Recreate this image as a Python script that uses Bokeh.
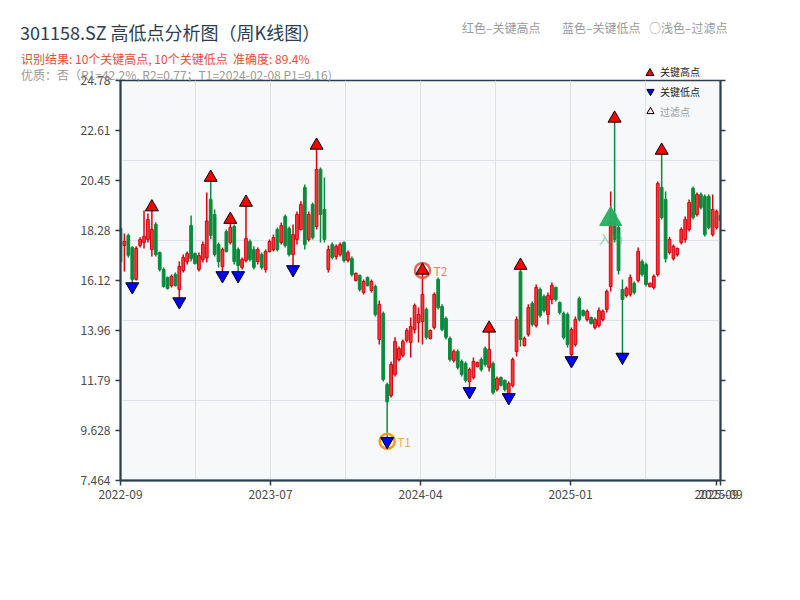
from bokeh.plotting import figure
from bokeh.layouts import column
from bokeh.models import (Range1d, FixedTicker, LinearAxis, Legend, LegendItem, Div,
                          ColumnDataSource, CustomJSTickFormatter)
from bokeh.embed import file_html
from bokeh.resources import INLINE
from bokeh.core.properties import value

# ---------------- data (weekly K-line) ----------------
opens = [18.37, 17.64, 18.07, 17.55, 16.17, 17.64, 17.77, 17.90, 17.46, 18.55,
         17.33, 16.60, 16.25, 15.90, 16.38, 15.73, 16.55, 16.94, 18.50, 17.29,
         16.60, 17.03, 17.10, 19.63, 18.98, 17.68, 16.73, 18.24, 17.77, 18.46,
         17.46, 16.69, 16.99, 17.81, 17.46, 16.94, 17.25, 16.60, 17.38, 17.46,
         18.33, 17.77, 18.89, 18.37, 17.25, 17.90, 18.33, 20.15, 17.90, 19.41,
         18.46, 20.93, 19.20, 16.60, 17.68, 17.16, 17.25, 17.77, 16.99, 17.07,
         16.12, 16.34, 15.60, 16.25, 15.69, 15.86, 13.57, 14.69, 11.62, 11.14,
         12.06, 12.70, 12.88, 13.53, 13.44, 14.00, 14.30, 14.35, 14.87, 13.61,
         14.09, 16.17, 15.00, 14.48, 13.61, 12.66, 13.05, 12.62, 12.53, 11.75,
         11.92, 12.40, 12.70, 13.18, 12.36, 12.53, 11.40, 11.92, 11.80, 11.14,
         11.58, 13.05, 16.50, 13.31, 13.79, 15.13, 14.17, 15.73, 15.43, 14.65,
         15.30, 15.82, 15.17, 14.69, 14.65, 12.92, 13.35, 15.34, 14.82, 14.43,
         14.52, 14.09, 14.17, 14.43, 14.87, 15.86, 19.00, 18.42, 15.73, 15.47,
         15.52, 16.00, 16.12, 16.94, 16.81, 15.86, 15.82, 16.38, 20.15, 19.63,
         17.33, 17.07, 17.25, 17.77, 17.90, 18.33, 20.11, 18.98, 19.85, 19.76,
         19.76, 18.11, 18.42, 18.94]
highs = [18.46, 18.16, 18.16, 17.60, 17.60, 17.99, 19.15, 19.02, 19.30, 18.64,
         17.38, 16.69, 16.30, 16.38, 16.47, 16.94, 17.25, 17.38, 18.94, 17.33,
         17.33, 17.81, 19.93, 20.58, 19.20, 17.77, 17.55, 18.33, 18.76, 18.55,
         17.55, 17.12, 19.50, 17.90, 17.60, 17.55, 17.33, 17.46, 17.90, 18.11,
         18.42, 18.63, 18.98, 18.46, 18.55, 19.11, 19.55, 20.28, 19.11, 19.50,
         21.97, 21.01, 20.58, 17.64, 17.77, 17.68, 17.77, 17.81, 17.42, 17.16,
         16.47, 16.38, 16.17, 16.30, 16.17, 15.95, 15.26, 14.78, 11.71, 12.62,
         13.66, 13.27, 13.57, 14.05, 14.52, 15.13, 14.95, 16.56, 14.95, 14.00,
         15.60, 16.25, 15.09, 14.56, 13.70, 13.14, 13.14, 12.70, 12.62, 12.36,
         12.79, 12.62, 12.79, 13.27, 14.05, 12.62, 11.97, 11.97, 11.84, 11.75,
         12.79, 14.56, 16.77, 13.70, 15.09, 15.21, 15.95, 15.82, 15.52, 15.60,
         16.04, 15.86, 15.21, 14.78, 14.74, 14.09, 14.56, 15.43, 14.87, 14.87,
         14.56, 14.52, 14.95, 14.87, 15.73, 19.98, 23.14, 18.55, 16.17, 15.86,
         16.38, 16.08, 17.55, 17.03, 16.90, 16.04, 16.38, 20.41, 21.75, 19.98,
         18.02, 17.68, 17.55, 18.42, 18.89, 19.63, 20.19, 19.93, 19.93, 19.85,
         19.85, 19.85, 19.20, 18.98]
lows = [16.90, 16.51, 17.12, 15.86, 16.12, 17.55, 17.51, 17.77, 17.16, 17.16,
        16.51, 15.82, 15.73, 15.82, 15.86, 15.21, 16.47, 16.81, 16.94, 16.81,
        16.51, 16.90, 16.90, 17.90, 17.16, 16.69, 16.34, 17.33, 17.68, 16.81,
        16.34, 16.60, 16.90, 16.94, 16.60, 16.81, 16.60, 16.47, 17.33, 17.38,
        17.38, 17.68, 17.55, 17.16, 16.60, 17.68, 18.29, 17.46, 17.81, 17.90,
        18.33, 17.77, 17.77, 16.47, 17.03, 17.03, 17.16, 16.90, 16.90, 16.30,
        16.08, 15.65, 15.52, 15.86, 15.60, 14.56, 13.35, 11.75, 9.16, 11.06,
        11.97, 12.62, 12.79, 13.44, 12.79, 13.83, 13.44, 13.35, 13.57, 13.57,
        14.00, 14.87, 13.92, 13.57, 12.62, 12.57, 12.27, 11.97, 11.71, 11.32,
        11.84, 12.36, 12.18, 12.40, 12.18, 11.19, 11.32, 11.53, 11.32, 11.06,
        11.49, 12.83, 13.27, 13.27, 13.70, 14.13, 14.09, 14.52, 14.74, 14.22,
        15.09, 15.21, 14.65, 13.57, 13.22, 12.66, 13.27, 14.35, 14.56, 14.35,
        14.22, 14.00, 14.09, 14.35, 14.74, 15.65, 17.77, 16.38, 12.81, 15.39,
        15.43, 15.52, 16.04, 16.30, 15.86, 15.82, 15.73, 16.30, 18.76, 16.90,
        17.25, 16.99, 17.16, 17.68, 17.77, 18.24, 18.76, 18.89, 19.20, 18.03,
        18.33, 18.03, 18.33, 18.68]
closes = [16.94, 17.81, 17.21, 16.17, 17.51, 17.90, 18.03, 18.76, 18.33, 17.25,
          16.60, 15.86, 15.78, 16.30, 15.90, 16.73, 17.12, 17.29, 17.07, 16.86,
          17.20, 17.68, 18.70, 18.07, 17.25, 16.94, 17.46, 17.38, 18.42, 16.94,
          16.77, 17.03, 17.94, 17.03, 16.69, 17.46, 16.69, 17.38, 17.81, 17.98,
          17.46, 18.50, 17.64, 17.25, 18.11, 18.98, 19.41, 17.68, 18.98, 17.98,
          20.93, 18.98, 17.90, 17.46, 17.12, 17.60, 17.68, 16.99, 17.33, 16.38,
          16.43, 15.73, 16.08, 15.90, 16.08, 14.65, 15.09, 11.84, 10.87, 12.49,
          13.48, 13.18, 13.48, 13.96, 14.13, 15.04, 14.65, 15.52, 13.66, 13.96,
          15.52, 14.95, 14.00, 13.66, 12.70, 13.05, 12.36, 12.06, 11.80, 12.27,
          12.62, 12.57, 12.27, 12.49, 13.14, 11.27, 11.88, 11.58, 11.40, 11.66,
          12.70, 14.43, 13.57, 13.61, 14.95, 14.22, 15.82, 14.61, 14.82, 15.47,
          15.91, 15.30, 14.74, 13.66, 13.35, 14.00, 14.43, 14.43, 14.61, 14.78,
          14.26, 14.43, 14.82, 14.78, 15.65, 18.63, 17.90, 16.55, 15.30, 15.78,
          16.25, 15.60, 17.38, 16.38, 15.95, 16.00, 16.30, 20.32, 18.85, 17.07,
          17.90, 17.60, 17.51, 18.33, 18.76, 19.50, 18.85, 19.85, 19.28, 18.11,
          18.42, 19.20, 19.11, 18.72]

x_tick_labels = ["2022-09", "2023-07", "2024-04", "2025-01", "2025-09", "2025-09"]
y_ticks = [7.464, 9.628, 11.79, 13.96, 16.12, 18.28, 20.45, 22.61, 24.78]

key_high_idx = [8, 23, 28, 32, 50, 77, 94, 102, 126, 138]
key_low_idx = [3, 15, 26, 30, 44, 68, 89, 99, 115, 128]
t1_idx, t1_price = 68, 9.16
t2_idx = 77
entry_idx, entry_price = 125, 18.78

title_text = "301158.SZ 高低点分析图（周K线图）"
result_text = "识别结果: 10个关键高点, 10个关键低点&nbsp;&nbsp;准确度: 89.4%"
quality_text = "优质：否（R1=42.2%, R2=0.77；T1=2024-02-08 P1=9.16)"
header_items = ["红色–关键高点", "蓝色–关键低点", "○浅色–过滤点"]
legend_labels = ["关键高点", "关键低点", "过滤点"]

# ---------------- styling ----------------
FONT = "Noto Sans CJK SC"
RED_LINE, RED_FILL = "#d8000f", "#f23c3c"
GREEN = "#0b8a3c"
AXIS = "#2c3e50"

N = len(opens)
idx = list(range(N))
up = [c >= o for o, c in zip(opens, closes)]

src = ColumnDataSource(dict(
    x=idx, high=highs, low=lows,
    top=[max(o, c) for o, c in zip(opens, closes)],
    bottom=[min(o, c) for o, c in zip(opens, closes)],
    line=[RED_LINE if u else GREEN for u in up],
    fill=[RED_FILL if u else GREEN for u in up],
))

NAN = float("nan")

p = figure(width=784, height=584, output_backend="svg", toolbar_location=None,
           x_range=Range1d(0, N - 1), y_range=Range1d(y_ticks[0], y_ticks[-1]),
           min_border_left=120, min_border_right=64, min_border_top=80, min_border_bottom=104,
           background_fill_color="#f6f8fa", border_fill_color="white")

p.outline_line_color = AXIS
p.outline_line_width = 1.5

span = N - 1
x_pos = [0, span / 4, span / 2, 3 * span / 4, span - 1, span]
p.xaxis.ticker = FixedTicker(ticks=x_pos)
p.xaxis.formatter = CustomJSTickFormatter(args=dict(pos=x_pos, labels=x_tick_labels), code="""
let best = ''; let bd = 1e9;
for (let i = 0; i < pos.length; i++) { const d = Math.abs(pos[i] - tick); if (d < bd) { bd = d; best = labels[i]; } }
return best;
""")
p.yaxis.ticker = FixedTicker(ticks=y_ticks)
p.yaxis.formatter = CustomJSTickFormatter(code="return String(tick);")

right_axis = LinearAxis(ticker=FixedTicker(ticks=y_ticks),
                        formatter=CustomJSTickFormatter(code="return '';"))
p.add_layout(right_axis, "right")

for ax in [p.xaxis[0], p.yaxis[0], right_axis]:
    ax.axis_line_color = AXIS
    ax.axis_line_width = 2
    ax.major_tick_line_color = AXIS
    ax.major_tick_line_width = 1.5
    ax.major_tick_out = 5
    ax.major_tick_in = 0
    ax.minor_tick_line_color = None
    ax.major_label_text_font_size = "12px"
    ax.major_label_text_color = "#4a4a4a"
    ax.major_label_text_font = FONT
p.xaxis.major_label_standoff = 4

p.xgrid.ticker = FixedTicker(ticks=[k * span / 8 for k in range(1, 8)])
y0, y1 = y_ticks[0], y_ticks[-1]
p.ygrid.ticker = FixedTicker(ticks=[y0 + k * (y1 - y0) / 5 for k in range(1, 5)])
p.xgrid.grid_line_color = "#dde2e8"
p.ygrid.grid_line_color = "#dde2e8"

# candles
p.segment(x0="x", y0="low", x1="x", y1="high", source=src, line_color="line", line_width=1.5)
p.vbar(x="x", width=0.7, top="top", bottom="bottom", source=src,
       fill_color="fill", line_color="line", line_width=1)

# entry marker
p.scatter(x=[entry_idx], y=[entry_price], marker="triangle", size=22,
          fill_color="#27ae60", line_color="#27ae60", fill_alpha=0.95)
p.text(x=[entry_idx], y=[entry_price], text=["入场"], y_offset=19, text_align="center",
       text_baseline="middle", text_color="#27ae60", text_alpha=0.55,
       text_font=value(FONT), text_font_size="12px")

# T rings
p.scatter(x=[t1_idx], y=[t1_price], marker="circle", size=15, fill_color=None,
          line_color="#f39c12", line_width=2.5)
p.scatter(x=[t2_idx], y=[highs[t2_idx]], marker="circle", size=15, fill_color=None,
          line_color="#e74c3c", line_width=2.5, line_alpha=0.85)

# key points
p.scatter(x=key_high_idx, y=[highs[i] for i in key_high_idx], marker="triangle", size=13,
          fill_color="#ff0000", line_color="black", line_width=1)
p.scatter(x=key_low_idx, y=[lows[i] for i in key_low_idx], marker="inverted_triangle", size=13,
          fill_color="#0000ff", line_color="black", line_width=1)

p.text(x=[t1_idx], y=[t1_price], text=["T1"], x_offset=10, text_baseline="middle",
       text_color="#f5b041", text_font=value(FONT), text_font_size="12px")
p.text(x=[t2_idx], y=[highs[t2_idx]], text=["T2"], x_offset=11, text_baseline="middle",
       text_color="#ef7d70", text_font=value(FONT), text_font_size="12px")


def make_legend(items, loc, color):
    lg = Legend(items=items, location=loc, glyph_width=18, glyph_height=18, label_height=18,
                label_width=10, label_standoff=1, spacing=2, padding=5, margin=0,
                background_fill_alpha=0, border_line_color=None,
                label_text_font_size="10px", label_text_color=color, label_text_font=FONT)
    p.add_layout(lg)


r_l = p.scatter(x=[NAN], y=[NAN], marker="inverted_triangle", fill_color="#0000ff", line_color="black")
r_f = p.scatter(x=[NAN], y=[NAN], marker="triangle", fill_color="#fbe3e3", line_color="black")
make_legend([LegendItem(label=legend_labels[1], renderers=[r_l])], (521, 380), "#222222")
make_legend([LegendItem(label=legend_labels[2], renderers=[r_f])], (521, 360), "#999999")

# ---------------- header (text above the frame) ----------------
def span_html(left, top, size, color, text):
    return (f'<span style="position:absolute;left:{left}px;top:{top}px;font-size:{size}px;'
            f'line-height:{size}px;color:{color};white-space:nowrap;">{text}</span>')


parts = [span_html(20, 23, 18, "#2c3e50", title_text),
         span_html(21, 53, 12, "#e74c3c", result_text),
         span_html(21, 69, 12, "#999999", quality_text)]
for hx, ht in zip([462, 562, 649], header_items):
    parts.append(span_html(hx, 22, 12, "#999999", ht))
parts.append('<svg style="position:absolute;left:645px;top:67px;" width="10" height="10">'
             '<polygon points="1,8.5 9,8.5 5,1.5" fill="#ff0000" stroke="black" stroke-width="1"/></svg>')
parts.append(span_html(660, 66.5, 10, "#222222", legend_labels[0]))

header = Div(text=(f'<div style="position:relative;width:784px;height:84px;'
                   f'font-family:\'{FONT}\';">' + "".join(parts) + '</div>'),
             width=784, height=84, margin=0,
             styles={"position": "absolute", "top": "0px", "left": "0px", "z-index": "5"})

layout = column(p, header, spacing=0)
open("out.html", "w").write(file_html(layout, INLINE))
